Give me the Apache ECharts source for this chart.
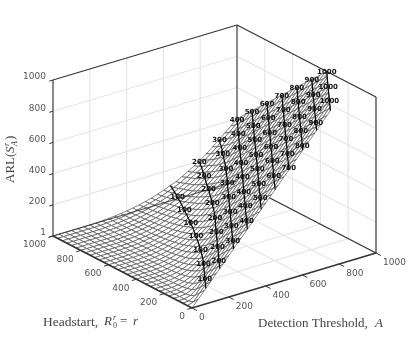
<!DOCTYPE html>
<html>
<head>
<meta charset="utf-8">
<style>
	html,body{margin:0;padding:0;background:#fff;}
	#chart{width:415px;height:346px;}
</style>
<script src="https://cdn.jsdelivr.net/npm/echarts@6/dist/echarts.min.js"></script>
</head>
<body>
<div id="chart"></div>
<script>
var thresholdValues = [0,33,67,100,133,167,200,233,267,300,333,367,400,433,467,500,533,567,600,633,667,700,733,767,800,833,867,900,933,967,1000];
var headstartValues = [0,33,67,100,133,167,200,233,267,300,333,367,400,433,467,500,533,567,600,633,667,700,733,767,800,833,867,900,933,967,1000];

// ARL, one row per threshold, one value per headstart
var arlByThreshold = [
	[1,1,1,1,1,1,1,1,1,1,1,1,1,1,1,1,1,1,1,1,1,1,1,1,1,1,1,1,1,1,1],
	[44,13,3,1,1,1,1,1,1,1,1,1,1,1,1,1,1,1,1,1,1,1,1,1,1,1,1,1,1,1,1],
	[89,58,27,11,6,3,2,1,1,1,1,1,1,1,1,1,1,1,1,1,1,1,1,1,1,1,1,1,1,1,1],
	[133,102,71,40,22,14,9,6,4,3,2,2,1,1,1,1,1,1,1,1,1,1,1,1,1,1,1,1,1,1,1],
	[177,146,115,84,53,34,23,16,12,9,7,5,4,3,3,2,2,1,1,1,1,1,1,1,1,1,1,1,1,1,1],
	[222,191,160,129,98,67,47,33,25,19,15,12,9,8,6,5,4,4,3,3,2,2,2,1,1,1,1,1,1,1,1],
	[266,235,204,173,142,111,80,59,45,34,27,22,18,15,13,10,9,7,6,5,5,4,3,3,2,2,2,2,1,1,1],
	[310,279,248,217,186,155,124,93,73,56,44,36,30,25,21,18,15,13,11,10,8,7,6,6,5,4,4,3,3,2,2],
	[354,323,292,261,230,199,168,137,106,85,68,55,45,39,33,28,24,21,18,15,13,12,11,9,8,7,7,6,5,5,4],
	[399,368,337,306,275,244,213,182,151,120,99,81,67,56,47,41,35,31,27,24,21,19,16,14,13,11,10,9,8,8,7],
	[443,412,381,350,319,288,257,226,195,164,133,112,93,78,67,57,50,43,38,33,30,27,23,21,19,17,15,14,13,11,10],
	[488,457,426,395,364,333,302,271,240,209,178,147,125,106,91,78,68,59,52,46,41,36,33,30,26,23,21,19,18,16,15],
	[532,501,470,439,408,377,346,315,284,253,222,191,160,139,118,102,89,78,68,62,54,49,44,39,36,33,29,26,25,22,20],
	[576,545,514,483,452,421,390,359,328,297,266,235,204,173,151,133,115,100,90,79,70,63,57,52,46,42,39,36,32,29,27],
	[620,589,558,527,496,465,434,403,372,341,310,279,248,217,186,166,146,128,111,99,89,79,73,66,60,55,49,45,42,39,35],
	[665,634,603,572,541,510,479,448,417,386,355,324,293,262,231,200,178,159,140,124,112,100,90,82,75,68,63,58,53,49,45],
	[709,678,647,616,585,554,523,492,461,430,399,368,337,306,275,244,213,192,171,152,137,123,111,100,91,84,77,70,65,60,55],
	[753,722,691,660,629,598,567,536,505,474,443,412,381,350,319,288,257,226,204,184,164,147,135,122,112,101,93,86,79,73,68],
	[798,767,736,705,674,643,612,581,550,519,488,457,426,395,364,333,302,271,240,216,197,178,162,145,134,122,113,102,95,89,82],
	[842,811,780,749,718,687,656,625,594,563,532,501,470,439,408,377,346,315,284,253,232,210,190,174,158,143,133,123,113,104,98],
	[886,855,824,793,762,731,700,669,638,607,576,545,514,483,452,421,390,359,328,297,266,245,223,205,187,171,155,144,133,123,113],
	[931,900,869,838,807,776,745,714,683,652,621,590,559,528,497,466,435,404,373,342,311,280,257,237,219,200,182,167,156,145,133],
	[975,944,913,882,851,820,789,758,727,696,665,634,603,572,541,510,479,448,417,386,355,324,293,271,249,230,213,195,181,166,156],
	[1020,989,958,927,896,865,834,803,772,741,710,679,648,617,586,555,524,493,462,431,400,369,338,307,287,261,244,227,207,192,179],
	[1064,1033,1002,971,940,909,878,847,816,785,754,723,692,661,630,599,568,537,506,475,444,413,382,351,320,299,278,256,237,220,205],
	[1108,1077,1046,1015,984,953,922,891,860,829,798,767,736,705,674,643,612,581,550,519,488,457,426,395,364,333,312,290,270,250,233],
	[1153,1122,1091,1060,1029,998,967,936,905,874,843,812,781,750,719,688,657,626,595,564,533,502,471,440,409,378,347,324,302,282,266],
	[1197,1166,1135,1104,1073,1042,1011,980,949,918,887,856,825,794,763,732,701,670,639,608,577,546,515,484,453,422,391,360,337,320,296],
	[1241,1210,1179,1148,1117,1086,1055,1024,993,962,931,900,869,838,807,776,745,714,683,652,621,590,559,528,497,466,435,404,373,351,331],
	[1286,1255,1224,1193,1162,1131,1100,1069,1038,1007,976,945,914,883,852,821,790,759,728,697,666,635,604,573,542,511,480,449,418,387,365],
	[1330,1299,1268,1237,1206,1175,1144,1113,1082,1051,1020,989,958,927,896,865,834,803,772,741,710,679,648,617,586,555,524,493,462,431,400]
];

var contourLevels = [100,200,300,400,500,600,700,800,900,1000];
var contourLabelStart = [14,1,1,1,1,1,1,1,1,1];
var arlTicks = [1,200,400,600,800,1000];
var planTicks = [0,200,400,600,800,1000];
var planGrid = [200,400,600,800];
var arlGrid = [200,400,600,800];

var axisMax = 1000, arlMin = 1;

// fixed view of the box: where the floor corner sits and how each axis runs on screen
var view = {ox:192, oy:308, ax:0.184, ay:-0.055, rx:-0.139, ry:-0.072, z:156/999};

function project(a, r, z){
	return [
		view.ox + view.ax*a + view.rx*r,
		view.oy + view.ay*a + view.ry*r - view.z*(z-arlMin)
	];
}

function segment(from, to, color, width){
	return {from:from, to:to, color:color, width:width};
}

var gridColor = '#e6e6e6', darkColor = '#333333', greyColor = '#8a8a8a', textColor = '#555555';

var backLines = [];
planGrid.forEach(function(v){
	backLines.push(segment([v,axisMax,arlMin],[v,axisMax,axisMax],gridColor,1.2));
	backLines.push(segment([axisMax,v,arlMin],[axisMax,v,axisMax],gridColor,1.2));
	backLines.push(segment([v,0,arlMin],[v,axisMax,arlMin],gridColor,1.2));
	backLines.push(segment([0,v,arlMin],[axisMax,v,arlMin],gridColor,1.2));
});
arlGrid.forEach(function(v){
	backLines.push(segment([0,axisMax,v],[axisMax,axisMax,v],gridColor,1.2));
	backLines.push(segment([axisMax,0,v],[axisMax,axisMax,v],gridColor,1.2));
});
backLines.push(segment([0,axisMax,arlMin],[0,axisMax,axisMax],greyColor,2));
backLines.push(segment([axisMax,axisMax,arlMin],[axisMax,axisMax,axisMax],greyColor,2));
backLines.push(segment([0,axisMax,axisMax],[axisMax,axisMax,axisMax],darkColor,1.2));
backLines.push(segment([axisMax,axisMax,axisMax],[axisMax,0,axisMax],darkColor,1.2));
backLines.push(segment([axisMax,0,arlMin],[axisMax,0,axisMax],darkColor,1.2));
backLines.push(segment([axisMax,axisMax,arlMin],[axisMax,0,arlMin],darkColor,1.4));

var frontLines = [];
frontLines.push(segment([0,axisMax,arlMin],[axisMax,axisMax,arlMin],'rgba(40,40,40,0.8)',1.2));
frontLines.push(segment([0,0,arlMin],[0,axisMax,arlMin],darkColor,1.6));
frontLines.push(segment([0,0,arlMin],[axisMax,0,arlMin],darkColor,1.4));
arlTicks.forEach(function(v){
	frontLines.push(segment([0,axisMax,v],[-20,axisMax,v],darkColor,1));
});
planTicks.forEach(function(v){
	frontLines.push(segment([0,v,arlMin],[-25,v,arlMin],darkColor,1));
	frontLines.push(segment([v,0,arlMin],[v,-35,arlMin],darkColor,1));
});

// mesh cells, far corner first so nearer cells paint over them
var cells = [];
for(var ci = thresholdValues.length-2; ci >= 0; ci--){
	for(var cj = headstartValues.length-2; cj >= 0; cj--){
		cells.push([ci,cj]);
	}
}

function node(i, j){
	return [thresholdValues[i], headstartValues[j], arlByThreshold[i][j]];
}

// the z axis stops at 1000, so the sheet is cut off there
function clipTop(poly){
	var out = [];
	for(var k = 0; k < poly.length; k++){
		var p = poly[k], q = poly[(k+1)%poly.length];
		if(p[2] <= axisMax){
			out.push(p);
		}
		if((p[2] <= axisMax) != (q[2] <= axisMax)){
			var t = (axisMax-p[2])/(q[2]-p[2]);
			out.push([p[0]+t*(q[0]-p[0]), p[1]+t*(q[1]-p[1]), axisMax]);
		}
	}
	return out;
}

function contourLine(level){
	var line = [];
	var last = thresholdValues.length-1;
	for(var j = headstartValues.length-1; j >= 0; j--){
		if(j < headstartValues.length-1 && arlByThreshold[last][j+1] < level && arlByThreshold[last][j] >= level){
			var u = (level-arlByThreshold[last][j])/(arlByThreshold[last][j+1]-arlByThreshold[last][j]);
			line.push([axisMax, headstartValues[j]+u*(headstartValues[j+1]-headstartValues[j]), level]);
		}
		for(var i = 0; i < last; i++){
			var lo = arlByThreshold[i][j], hi = arlByThreshold[i+1][j];
			if(lo < level && hi >= level){
				var s = (level-lo)/(hi-lo);
				line.push([thresholdValues[i]+s*(thresholdValues[i+1]-thresholdValues[i]), headstartValues[j], level]);
				break;
			}
		}
	}
	return line;
}

// labels sit along each contour at an even spacing on the screen
var labelStep = 14.5;
var contourLines = contourLevels.map(contourLine);
var contourTexts = [];
contourLines.forEach(function(line, n){
	var want = contourLabelStart[n], run = 0;
	for(var k = 1; k < line.length; k++){
		var p = project(line[k-1][0],line[k-1][1],line[k-1][2]);
		var q = project(line[k][0],line[k][1],line[k][2]);
		var len = Math.sqrt((q[0]-p[0])*(q[0]-p[0])+(q[1]-p[1])*(q[1]-p[1]));
		while(run+len >= want){
			var t = (want-run)/len;
			contourTexts.push({text:String(contourLevels[n]), at:[p[0]+t*(q[0]-p[0]), p[1]+t*(q[1]-p[1])]});
			want += labelStep;
		}
		run += len;
	}
});

var tickTexts = [];
arlTicks.forEach(function(v){
	var p = project(0,axisMax,v);
	tickTexts.push({text:String(v), at:[p[0]-7,p[1]-3], align:'right'});
});
planTicks.forEach(function(v){
	var p = project(0,v,arlMin);
	tickTexts.push({text:String(v), at:[p[0]-7,p[1]+9], align:'right'});
	var q = project(v,0,arlMin);
	tickTexts.push({text:String(v), at:[q[0]+7,q[1]+10], align:'left'});
});

var serif = '"Liberation Serif"';
var titleColor = '#444444';
var titleParts = [
	{text:'Headstart,', x:43, y:322, font:'13.5px '+serif},
	{text:'R', x:104, y:322, font:'italic 13px '+serif},
	{text:'r', x:113, y:318, font:'italic 8px '+serif},
	{text:'0', x:113, y:326, font:'8px '+serif},
	{text:'=', x:120, y:322, font:'13px '+serif},
	{text:'r', x:133, y:322, font:'italic 13px '+serif},
	{text:'Detection Threshold,', x:258, y:324, font:'13px '+serif},
	{text:'A', x:375, y:324, font:'italic 13px '+serif}
];
var arlTitleParts = [
	{text:'ARL(', y:183, x:11, font:'13px '+serif},
	{text:'S', y:153, x:11, font:'italic 13px '+serif},
	{text:'r', y:146, x:7, font:'italic 8px '+serif},
	{text:'A', y:146, x:15, font:'italic 8px '+serif},
	{text:')', y:140, x:11, font:'13px '+serif}
];

function lineItem(params, api, list){
	var s = list[params.dataIndex];
	var a = api.coord(project(s.from[0],s.from[1],s.from[2]));
	var b = api.coord(project(s.to[0],s.to[1],s.to[2]));
	return {type:'line', shape:{x1:a[0],y1:a[1],x2:b[0],y2:b[1]}, style:{stroke:s.color,lineWidth:s.width,fill:null}};
}

function customSeries(data, renderItem, z){
	return {
		type:'custom',
		coordinateSystem:'cartesian2d',
		data:data,
		renderItem:renderItem,
		clip:false,
		silent:true,
		animation:false,
		z:z
	};
}

function indexes(list){
	return list.map(function(v, n){ return [n,0]; });
}

var myChart = echarts.init(document.getElementById('chart'));
var option = {
	animation:false,
	backgroundColor:'#ffffff',
	grid:{left:0,right:0,top:0,bottom:0},
	xAxis:{type:'value',min:0,max:415,show:false},
	yAxis:{type:'value',min:0,max:346,inverse:true,show:false},
	series:[
		customSeries(indexes(backLines), function(params, api){
			return lineItem(params, api, backLines);
		}, 1),
		customSeries(cells, function(params, api){
			var c = cells[params.dataIndex];
			var poly = clipTop([node(c[0],c[1]),node(c[0]+1,c[1]),node(c[0]+1,c[1]+1),node(c[0],c[1]+1)]);
			if(poly.length < 3){
				return;
			}
			return {
				type:'polygon',
				shape:{points:poly.map(function(p){ return api.coord(project(p[0],p[1],p[2])); })},
				style:{fill:'#ffffff',stroke:'#505050',lineWidth:0.7}
			};
		}, 2),
		customSeries(indexes(contourLines), function(params, api){
			return {
				type:'polyline',
				shape:{points:contourLines[params.dataIndex].map(function(p){ return api.coord(project(p[0],p[1],p[2])); })},
				style:{fill:null,stroke:'#000000',lineWidth:1.2}
			};
		}, 3),
		customSeries(indexes(frontLines), function(params, api){
			return lineItem(params, api, frontLines);
		}, 4),
		customSeries(indexes(contourTexts), function(params, api){
			var t = contourTexts[params.dataIndex];
			var p = api.coord(t.at);
			return {
				type:'text',
				style:{x:p[0],y:p[1],text:t.text,font:'bold 7px "DejaVu Sans"',fill:'#111111',align:'center',verticalAlign:'middle'}
			};
		}, 5),
		customSeries(indexes(tickTexts), function(params, api){
			var t = tickTexts[params.dataIndex];
			var p = api.coord(t.at);
			return {
				type:'text',
				style:{x:p[0],y:p[1],text:t.text,font:'9px "DejaVu Sans"',fill:textColor,align:t.align,verticalAlign:'middle'}
			};
		}, 5),
		customSeries(indexes(titleParts), function(params, api){
			var t = titleParts[params.dataIndex];
			var p = api.coord([t.x,t.y]);
			return {
				type:'text',
				style:{x:p[0],y:p[1],text:t.text,font:t.font,fill:titleColor,align:'left',verticalAlign:'middle'}
			};
		}, 5),
		customSeries(indexes(arlTitleParts), function(params, api){
			var t = arlTitleParts[params.dataIndex];
			var p = api.coord([t.x,t.y]);
			return {
				type:'text',
				x:p[0],
				y:p[1],
				rotation:Math.PI/2,
				style:{x:0,y:0,text:t.text,font:t.font,fill:titleColor,align:'left',verticalAlign:'middle'}
			};
		}, 5)
	]
};
myChart.setOption(option);
</script>
</body>
</html>
